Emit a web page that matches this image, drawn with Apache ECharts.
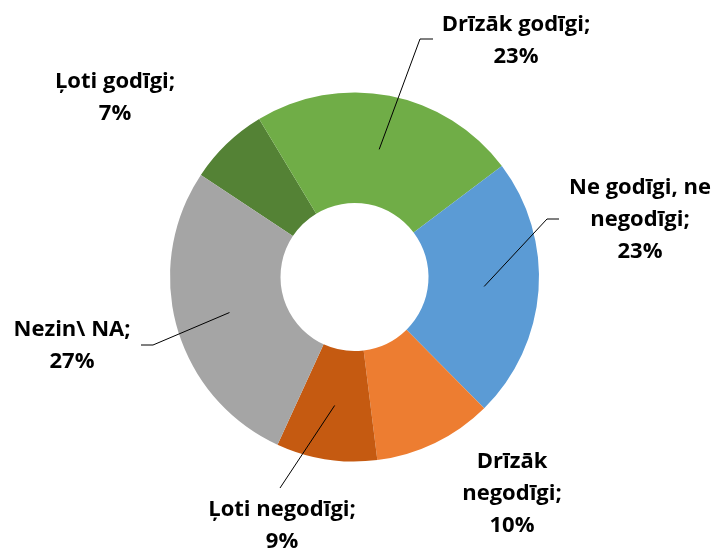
<!DOCTYPE html>
<html style="height: 100%">
<head>
    <meta charset="utf-8">
    <script type="text/javascript" src="https://cdn.jsdelivr.net/npm/echarts@6.0.0/dist/echarts.min.js"></script>
</head>
<body style="height: 100%; margin: 0; background-color: #FFFFFF;">
    <div id="main" style="width: 716px;height: 550px;"></div>
</body>
</html>
<script>
// atbildes (kategorijas) un to daļas procentos
var categories = ['Ļoti godīgi', 'Drīzāk godīgi', 'Ne godīgi, ne negodīgi', 'Drīzāk negodīgi', 'Ļoti negodīgi', 'Nezin\\ NA'];
var shares = [7.0, 23.3, 22.8, 10.4, 8.8, 27.4];
var colors = ['#548235', '#70AD47', '#5B9BD5', '#ED7D31', '#C55A11', '#A5A5A5'];

// pie geometry (px)
var cx = 354.5, cy = 277, rIn = 74, rOut = 184.5, rLeader = 130, startAngle = 146.4;

// label spots placed by hand like in the original, line = leader line bend/end
var labelSpots = [
    { x: 115, y: 98 },
    { x: 516, y: 41, line: [[420, 39], [433, 39]] },
    { x: 640, y: 220, wrap: true, line: [[547, 219], [559, 219]] },
    { x: 512, y: 494, wrap: true },
    { x: 282, y: 526, line: [[280, 488], [280, 488]] },
    { x: 72, y: 346, line: [[153, 345], [141, 345]] }
];

var total = shares.reduce(function (a, b) { return a + b; }, 0);

// mid angle of every slice -> start of leader line inside the ring
function leaderStart(idx) {
    var before = 0;
    for (var i = 0; i < idx; i++) before += shares[i];
    var mid = startAngle - (before + shares[idx] / 2) / total * 360;
    var rad = mid * Math.PI / 180;
    return [cx + rLeader * Math.cos(rad), cy - rLeader * Math.sin(rad)];
}

var chartDom = document.getElementById('main');
var myChart = echarts.init(chartDom);

var pieData = categories.map(function (name, i) {
    return { name: name, value: shares[i] };
});

var option = {
    animation: false,
    color: colors,
    series: [
        {
            // the doughnut itself
            type: 'pie',
            z: 2,
            center: [cx, cy],
            radius: [rIn, rOut],
            startAngle: startAngle,
            clockwise: true,
            emphasis: { scale: false },
            itemStyle: { borderWidth: 0 },
            label: { show: false },
            labelLine: { show: false },
            data: pieData
        },
        {
            // invisible copy on top, only carries labels + leader lines
            type: 'pie',
            z: 3,
            silent: true,
            center: [cx, cy],
            radius: [0, rLeader],
            startAngle: startAngle,
            clockwise: true,
            avoidLabelOverlap: false,
            emphasis: { disabled: true },
            itemStyle: { color: 'rgba(0,0,0,0)', borderWidth: 0 },
            label: {
                show: true,
                position: 'outside',
                color: '#000000',
                fontFamily: 'Open Sans',
                fontWeight: 'bold',
                fontSize: 22,
                lineHeight: 32,
                align: 'center',
                overflow: 'none',
                formatter: function (p) {
                    var name = p.name;
                    if (labelSpots[p.dataIndex].wrap) {
                        var k = name.lastIndexOf(' ');
                        name = name.slice(0, k) + '\n' + name.slice(k + 1);
                    }
                    return name + ';\n' + Math.round(p.value) + '%';
                }
            },
            labelLine: {
                show: true,
                lineStyle: { color: '#000000', width: 1 }
            },
            labelLayout: function (params) {
                var s = labelSpots[params.dataIndex];
                var res = { x: s.x, y: s.y, align: 'center', verticalAlign: 'middle' };
                if (s.line) {
                    res.labelLinePoints = [leaderStart(params.dataIndex), s.line[0], s.line[1]];
                }
                return res;
            },
            data: categories.map(function (name, i) {
                return {
                    name: name,
                    value: shares[i],
                    labelLine: { show: !!labelSpots[i].line }
                };
            })
        }
    ]
};

myChart.setOption(option);
</script>
